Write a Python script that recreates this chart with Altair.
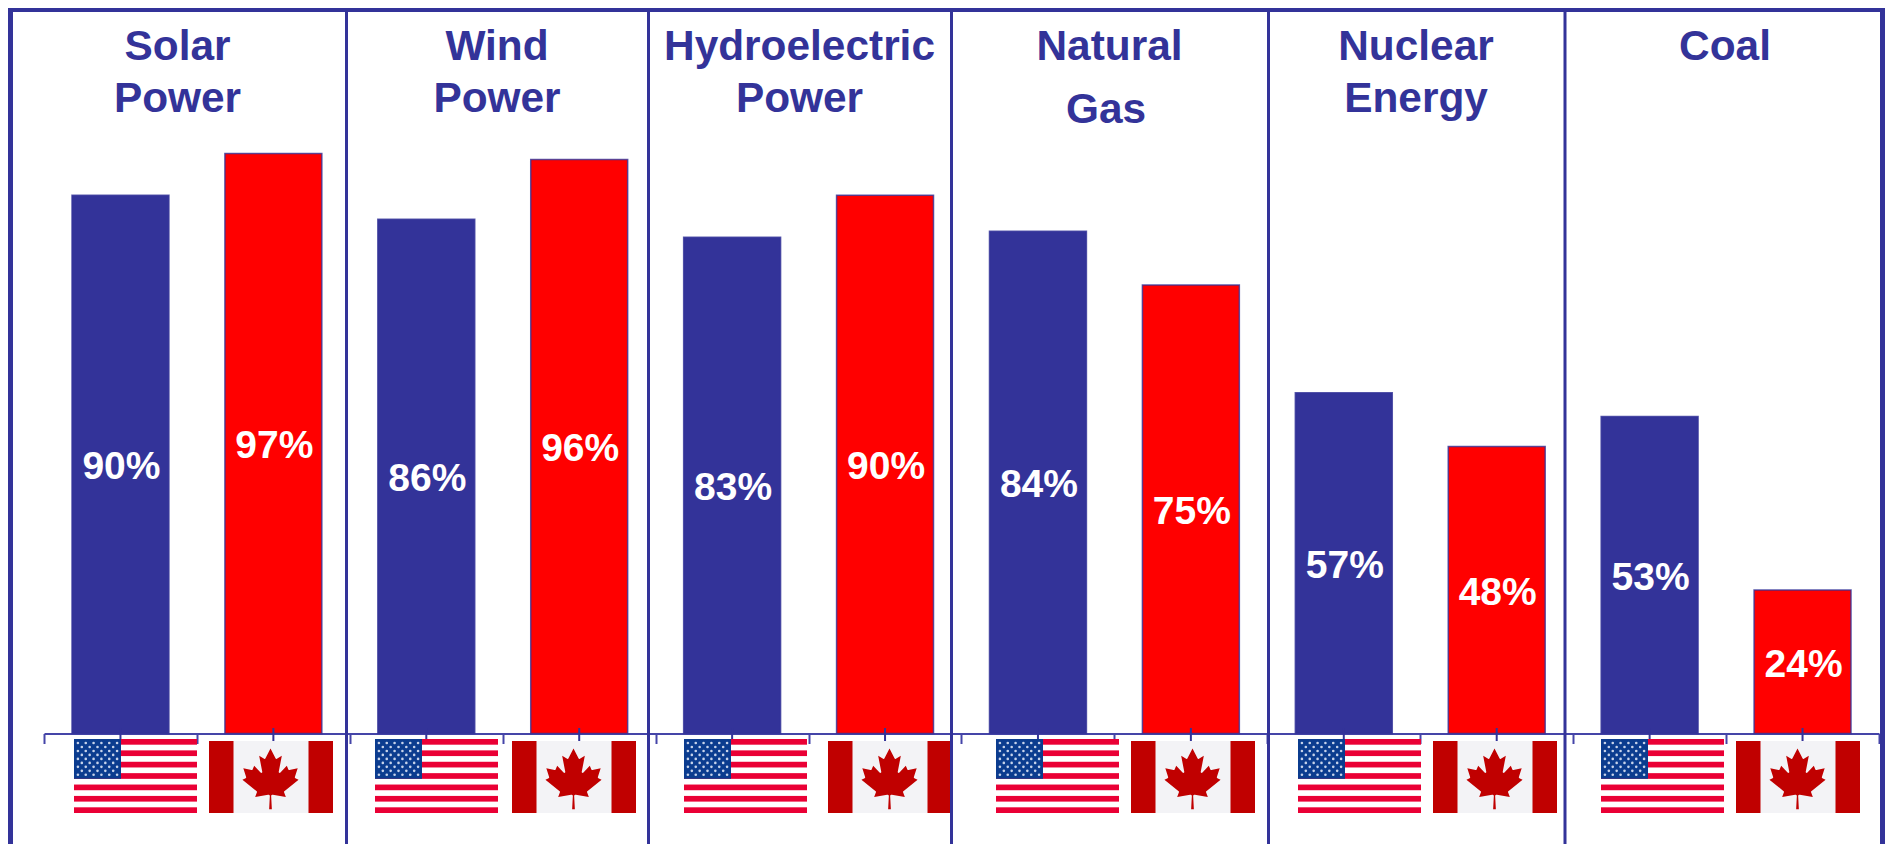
import base64
import altair as alt
import pandas as pd

topics = ["Solar Power", "Wind Power", "Hydroelectric Power", "Natural Gas", "Nuclear Energy", "Coal"]
usa_values = [90, 86, 83, 84, 57, 53]
canada_values = [97, 96, 90, 75, 48, 24]
title_lines = [
    ("Solar", 177.5, 47), ("Power", 177.5, 99),
    ("Wind", 497, 47), ("Power", 497, 99),
    ("Hydroelectric", 799.5, 47), ("Power", 799.5, 99),
    ("Natural", 1109.5, 47), ("Gas", 1106, 110),
    ("Nuclear", 1416, 47), ("Energy", 1416, 99),
    ("Coal", 1725, 47),
]
divider_x = [346.5, 648.5, 951.5, 1268.5, 1565]
usa_flag_x = [74, 375, 684, 996, 1298, 1601]
canada_flag_x = [209, 512, 828, 1131, 1433, 1736]

NAVY = "#333399"
RED = "#FF0000"
M = 8  # page margin


def us_svg():
    w, h = 123, 74
    s = [f'<svg xmlns="http://www.w3.org/2000/svg" width="{w*4}" height="{h*4}" viewBox="0 0 {w} {h}" preserveAspectRatio="none">',
         f'<rect width="{w}" height="{h}" fill="#fff"/>']
    for i in range(0, 13, 2):
        s.append(f'<rect y="{i*h/13:.2f}" width="{w}" height="{h/13:.2f}" fill="#ea0035"/>')
    s.append('<rect width="47" height="39.8" fill="#0b3c8f"/>')
    for r in range(9):
        n = 6 if r % 2 == 0 else 5
        for c in range(n):
            cx = (c + (0.5 if r % 2 == 0 else 1)) * 47 / 6
            cy = (r + 1) * 39.8 / 10
            s.append(f'<circle cx="{cx:.2f}" cy="{cy:.2f}" r="1.3" fill="#c7d3ea"/>')
    s.append("</svg>")
    return "".join(s)


def ca_svg():
    w, h = 124, 72
    leaf = ("M4890 4430l-45-863a95 95 0 0 1 111-98l859 151-116-320a65 65 0 0 1 20-73l941-762-212-99"
            "a65 65 0 0 1-34-79l186-572-542 115a65 65 0 0 1-73-38l-105-247-423 454a65 65 0 0 1-111-57"
            "l204-1052-327 189a65 65 0 0 1-91-27l-332-652-332 652a65 65 0 0 1-91 27l-327-189 204 1052"
            "a65 65 0 0 1-111 57l-423-454-105 247a65 65 0 0 1-73 38l-542-115 186 572a65 65 0 0 1-34 79"
            "l-212 99 941 762a65 65 0 0 1 20 73l-116 320 859-151a95 95 0 0 1 111 98l-45 863z")
    return (f'<svg xmlns="http://www.w3.org/2000/svg" width="{w*4}" height="{h*4}" viewBox="0 0 {w} {h}" preserveAspectRatio="none">'
            f'<rect width="{w}" height="{h}" fill="#f3f3f6"/>'
            f'<rect width="24.5" height="{h}" fill="#c00000"/><rect x="99.5" width="24.5" height="{h}" fill="#c00000"/>'
            f'<g transform="translate({61.5-4800*0.0151:.2f},{7-370*0.0151:.2f}) scale(0.0151)"><path fill="#c00000" d="{leaf}"/></g>'
            "</svg>")


def data_url(svg):
    return "data:image/svg+xml;base64," + base64.b64encode(svg.encode()).decode()


US_URL = data_url(us_svg())
CA_URL = data_url(ca_svg())

rows = []
for t, u, c in zip(topics, usa_values, canada_values):
    rows.append({"slot": t + " USA", "country": "USA", "value": u})
    rows.append({"slot": t + " Canada", "country": "Canada", "value": c})
df = pd.DataFrame(rows)
df["mid"] = df["value"] / 2
df["label"] = df["value"].astype(str) + "%"
slots = df["slot"].tolist()

W, H = 1877, 836
x_scale = alt.Scale(domain=slots, range=[36, 1871], paddingInner=0, paddingOuter=0)
y_scale = alt.Scale(domain=[0, 100], range=[725.5, 127.5])
x_enc = alt.X("slot:N", scale=x_scale,
              axis=alt.Axis(title=None, labels=False, tickBand="extent", tickSize=10, tickWidth=2,
                            tickColor="#4545a8", domainColor="#4545a8", domainWidth=2, grid=False,
                            offset=-110.5))
blank = alt.Data(values=[{}])

bars = alt.Chart(df).mark_bar(width=alt.RelativeBandSize(band=0.634), stroke=NAVY, strokeWidth=1.5, strokeOpacity=0.8).encode(
    x=x_enc,
    y=alt.Y("value:Q", scale=y_scale, axis=None),
    color=alt.Color("country:N", scale=alt.Scale(domain=["USA", "Canada"], range=[NAVY, RED]), legend=None),
)
center_ticks = alt.Chart(df).mark_rule(color=NAVY, strokeWidth=2).encode(
    x=alt.X("slot:N", scale=x_scale, bandPosition=0.5),
    y=alt.value(720), y2=alt.value(733),
)
labels = alt.Chart(df).mark_text(color="white", font="Liberation Sans", fontWeight="bold", fontSize=39,
                                 baseline="middle", align="center", dx=1, dy=3).encode(
    x=alt.X("slot:N", scale=x_scale, bandPosition=0.5),
    y=alt.Y("mid:Q", scale=y_scale),
    text="label:N",
)

layers = [bars, center_ticks, labels]

for x in usa_flag_x:
    layers.append(alt.Chart(blank).mark_image(url=US_URL, width=123, height=74, aspect=False, align="left", baseline="top")
                  .encode(x=alt.value(x - M), y=alt.value(739 - M)))
for x in canada_flag_x:
    layers.append(alt.Chart(blank).mark_image(url=CA_URL, width=124, height=72, aspect=False, align="left", baseline="top")
                  .encode(x=alt.value(x - M), y=alt.value(741 - M)))
for x in divider_x:
    layers.append(alt.Chart(blank).mark_rule(color=NAVY, strokeWidth=3)
                  .encode(x=alt.value(x - M), y=alt.value(0), y2=alt.value(H)))
# outer frame: top, left, right (the canvas stops at the page's 8px margin)
layers.append(alt.Chart(blank).mark_rule(color=NAVY, strokeWidth=4)
              .encode(y=alt.value(2), x=alt.value(0), x2=alt.value(W)))
layers.append(alt.Chart(blank).mark_rule(color=NAVY, strokeWidth=5)
              .encode(x=alt.value(2.5), y=alt.value(0), y2=alt.value(H)))
layers.append(alt.Chart(blank).mark_rule(color=NAVY, strokeWidth=5)
              .encode(x=alt.value(1874.5), y=alt.value(0), y2=alt.value(H)))
for text, x, y in title_lines:
    layers.append(alt.Chart(blank).mark_text(text=text, color=NAVY, font="Liberation Sans", fontWeight="bold",
                                             fontSize=42.4, align="center", baseline="middle")
                  .encode(x=alt.value(x - M), y=alt.value(y - M)))

chart = alt.layer(*layers).properties(
    width=W, height=H, padding=0, autosize=alt.AutoSizeParams(type="none"),
    background="white",
).configure_view(stroke=None)

chart.save("out.html", embed_options={"renderer": "svg", "actions": False})
